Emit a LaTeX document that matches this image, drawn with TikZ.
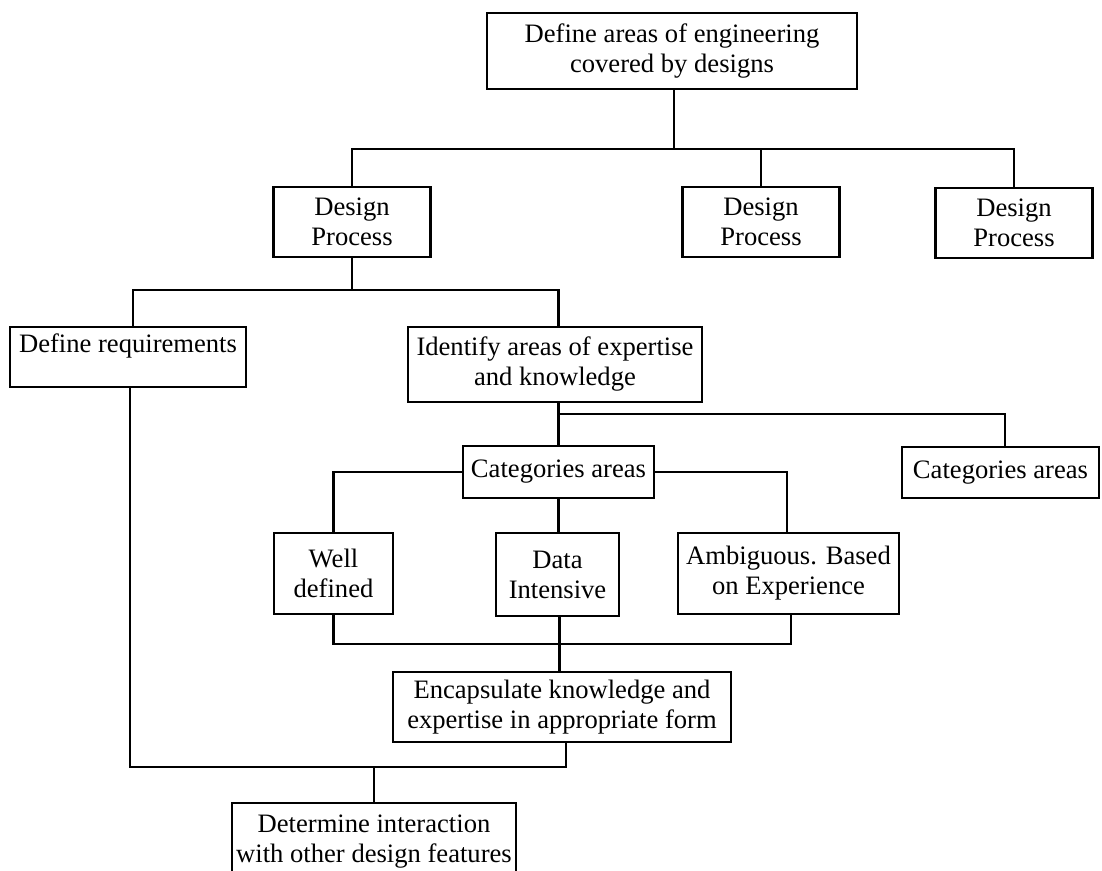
\documentclass[tikz,border=0pt]{standalone}
\usepackage{fontspec}
\setmainfont{Liberation Serif}

\begin{document}
\begin{tikzpicture}[x=0.5pt, y=-0.5pt, line width=1.2pt,
  blk/.style={draw, align=center, inner sep=0pt,
    font=\fontsize{13.3}{15}\selectfont}]

	\useasboundingbox (0,0) rectangle (1102,871);

	\node[blk, minimum width=185pt, minimum height=38pt] (areas) at (672,51)
		{Define areas of engineering\\covered by designs};

	\node[blk, minimum width=78.5pt, minimum height=35pt] (dpa) at (352,222) {Design\\Process};
	\node[blk, minimum width=78.5pt, minimum height=35pt] (dpb) at (761,222) {Design\\Process};
	\node[blk, minimum width=78.5pt, minimum height=35pt] (dpc) at (1014,223) {Design\\Process};

	\node[blk, minimum width=118pt, minimum height=30pt, text height=10pt, text depth=14pt]
		(defreq) at (128,357) {Define requirements};
	\node[blk, minimum width=147pt, minimum height=37.5pt] (ident) at (555,364.5)
		{Identify areas of expertise\\and knowledge};

	\node[blk, minimum width=95.5pt, minimum height=26pt] (cata) at (558.5,472) {Categories areas};
	\node[blk, minimum width=98.5pt, minimum height=25.5pt] (catb) at (1000.5,472.5) {Categories areas};

	\node[blk, minimum width=59.5pt, minimum height=40.5pt] (well) at (333.5,573.5) {Well\\defined};
	\node[blk, minimum width=61.5pt, minimum height=41.5pt] (data) at (557.5,574.5) {Data\\Intensive};
	\node[blk, minimum width=110.5pt, minimum height=40.5pt] (ambig) at (788.5,573.5)
		{Ambiguous. Based\\on Experience};

	\node[blk, minimum width=169pt, minimum height=35pt] (encap) at (562,707)
		{Encapsulate knowledge and\\expertise in appropriate form};
	\node[blk, minimum width=142pt, minimum height=39pt] (determ) at (374,842)
		{Determine interaction\\with other design features};

	% bus lines
	\coordinate (busa) at (0,149);
	\coordinate (busb) at (0,290);
	\coordinate (busc) at (0,414);
	\coordinate (busd) at (0,644);
	\coordinate (buse) at (0,767);

	\draw ([xshift=1pt]areas.south) -- ([xshift=1pt]areas.south |- busa);
	\draw (dpa.north) |- (busa -| dpc.north) -- (dpc.north);
	\draw (dpb.north) -- (dpb.north |- busa);

	\draw (dpa.south) -- (dpa.south |- busb);
	\draw ([xshift=2.5pt]defreq.north) |- (busb -| cata.north) -- (ident.north -| cata.north);

	\draw (ident.south -| cata.north) -- (cata.north);
	\draw (cata.north |- busc) -| ([xshift=2.25pt]catb.north);

	\draw (cata.west) -| (well.north);
	\draw (cata.east) -| ([xshift=-0.75pt]ambig.north);
	\draw (cata.south) -- (cata.south |- data.north);

	\draw (well.south) |- ([xshift=1.25pt]busd -| ambig.south) -- ([xshift=1.25pt]ambig.south);
	\draw ([xshift=1pt]data.south) -- ([xshift=1pt]data.south |- encap.north);

	\draw ([xshift=1pt]defreq.south) |- ([xshift=2pt]buse -| encap.south) -- ([xshift=2pt]encap.south);
	\draw (determ.north) -- (determ.north |- buse);

\end{tikzpicture}
\end{document}
